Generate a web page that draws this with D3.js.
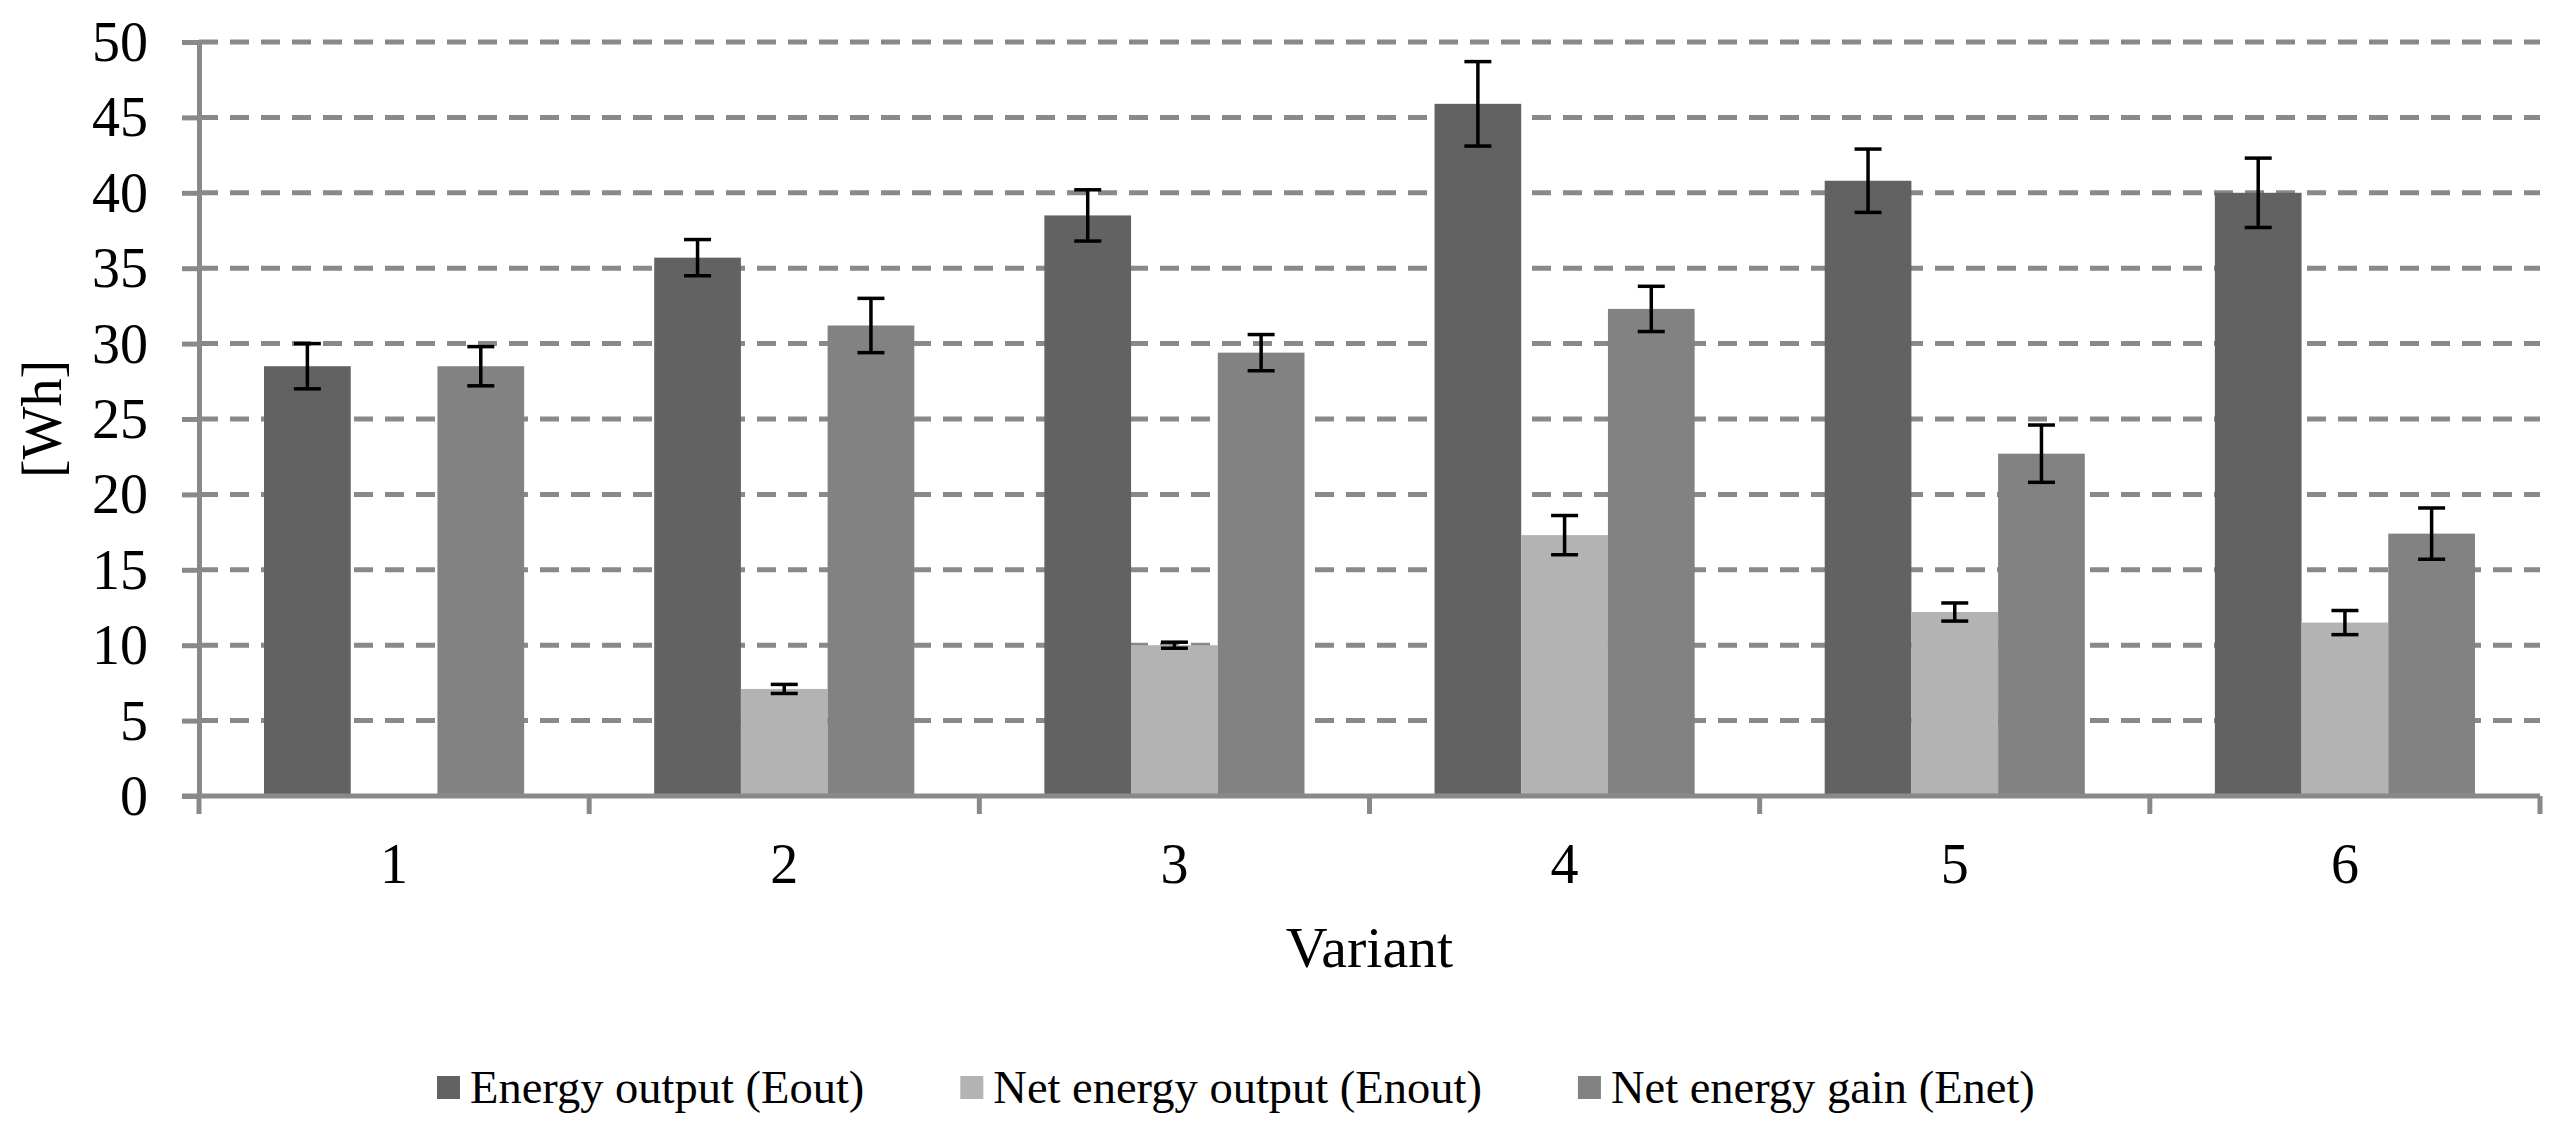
<!DOCTYPE html>
<html>
<head>
<meta charset="utf-8">
<script src="https://cdnjs.cloudflare.com/ajax/libs/d3/7.8.5/d3.min.js"></script>
<style>
  body { margin: 0; background: #fff; }
  svg { display: block; font-family: "Liberation Serif", "Times New Roman", serif; }
</style>
</head>
<body>
<div id="chart"></div>
<script>
// variants on the x axis
const variants = ["1", "2", "3", "4", "5", "6"];
const seriesNames = ["Energy output (Eout)", "Net energy output (Enout)", "Net energy gain (Enet)"];
const seriesKeys = ["eout", "enout", "enet"];

// bar heights [Wh]
const eout  = [28.5, 35.7, 38.5, 45.9, 40.8, 40.0];
const enout = [null, 7.1, 10.0, 17.3, 12.2, 11.5];
const enet  = [28.5, 31.2, 29.4, 32.3, 22.7, 17.4];

// error bar half-lengths
const eoutErr  = [1.5, 1.2, 1.7, 2.8, 2.1, 2.3];
const enoutErr = [null, 0.3, 0.2, 1.3, 0.6, 0.8];
const enetErr  = [1.3, 1.8, 1.2, 1.5, 1.9, 1.7];

const yTicks = [0, 5, 10, 15, 20, 25, 30, 35, 40, 45, 50];

const values = { eout: eout, enout: enout, enet: enet };
const errors = { eout: eoutErr, enout: enoutErr, enet: enetErr };
const colors = { eout: "#626262", enout: "#b3b3b3", enet: "#828282" };

const W = 2559, H = 1126;
const plotLeft = 199, plotRight = 2540, plotTop = 42, plotBottom = 796;
const axisColor = "#898989";

const svg = d3.select("#chart").append("svg")
    .attr("width", W)
    .attr("height", H);

svg.append("rect").attr("width", W).attr("height", H).attr("fill", "#fff");

const x = d3.scaleBand()
    .domain(variants)
    .range([plotLeft, plotRight])
    .padding(0);

const x1 = d3.scaleBand()
    .domain(seriesKeys)
    .range([0, x.bandwidth()])
    .paddingInner(0)
    .paddingOuter(0.75);

const y = d3.scaleLinear()
    .domain([0, 50])
    .range([plotBottom, plotTop]);

// dashed gridlines
svg.append("g")
    .selectAll("line")
    .data(yTicks.filter(d => d > 0))
    .enter().append("line")
    .attr("x1", plotLeft)
    .attr("x2", plotRight)
    .attr("y1", d => y(d))
    .attr("y2", d => y(d))
    .attr("stroke", axisColor)
    .attr("stroke-width", 5)
    .attr("stroke-dasharray", "19 12");

// flatten into one record per bar
const bars = [];
variants.forEach((v, i) => {
    seriesKeys.forEach(k => {
        if (values[k][i] != null) {
            bars.push({ variant: v, key: k, value: values[k][i], err: errors[k][i] });
        }
    });
});

svg.append("g")
    .selectAll("rect")
    .data(bars)
    .enter().append("rect")
    .attr("x", d => x(d.variant) + x1(d.key))
    .attr("y", d => y(d.value))
    .attr("width", x1.bandwidth())
    .attr("height", d => y(0) - y(d.value))
    .attr("fill", d => colors[d.key]);

// error bars
const errG = svg.append("g")
    .attr("stroke", "#000")
    .attr("stroke-width", 3.5);

const cx = d => x(d.variant) + x1(d.key) + x1.bandwidth() / 2;
const capHalf = 13.5;

errG.selectAll(".stem")
    .data(bars)
    .enter().append("line")
    .attr("x1", cx).attr("x2", cx)
    .attr("y1", d => y(d.value + d.err))
    .attr("y2", d => y(d.value - d.err));

errG.selectAll(".capTop")
    .data(bars)
    .enter().append("line")
    .attr("x1", d => cx(d) - capHalf).attr("x2", d => cx(d) + capHalf)
    .attr("y1", d => y(d.value + d.err)).attr("y2", d => y(d.value + d.err));

errG.selectAll(".capBottom")
    .data(bars)
    .enter().append("line")
    .attr("x1", d => cx(d) - capHalf).attr("x2", d => cx(d) + capHalf)
    .attr("y1", d => y(d.value - d.err)).attr("y2", d => y(d.value - d.err));

// y axis
const yAxisGroup = svg.append("g")
    .attr("transform", `translate(${plotLeft},0)`)
    .call(d3.axisLeft(y)
        .tickValues(yTicks)
        .tickSize(17)
        .tickSizeOuter(0)
        .tickPadding(34)
        .tickFormat(d3.format("d")));

yAxisGroup.selectAll("path, line")
    .attr("stroke", axisColor)
    .attr("stroke-width", 5);

yAxisGroup.selectAll("text")
    .attr("dy", "0.33em")
    .style("font-size", "56px")
    .style("font-family", "Liberation Serif")
    .attr("fill", "#000");

// x axis: labels at centres, tick marks at band edges
const xAxisGroup = svg.append("g")
    .attr("transform", `translate(0,${plotBottom})`)
    .call(d3.axisBottom(x)
        .tickSize(0)
        .tickSizeOuter(0));

xAxisGroup.select(".domain")
    .attr("stroke", axisColor)
    .attr("stroke-width", 5)
    .attr("d", `M${plotLeft - 17},0H${plotRight}`);

xAxisGroup.selectAll("text")
    .attr("y", 87)
    .attr("dy", 0)
    .style("font-size", "56px")
    .style("font-family", "Liberation Serif")
    .attr("fill", "#000");

const edges = variants.map(v => x(v)).concat([x.range()[1]]);
xAxisGroup.selectAll(".edge")
    .data(edges)
    .enter().append("line")
    .attr("x1", d => d).attr("x2", d => d)
    .attr("y1", 0).attr("y2", 18)
    .attr("stroke", axisColor)
    .attr("stroke-width", 5);

// axis titles
svg.append("text")
    .attr("x", (plotLeft + plotRight) / 2)
    .attr("y", 967)
    .attr("text-anchor", "middle")
    .style("font-size", "58px")
    .text("Variant");

svg.append("text")
    .attr("transform", `translate(61,${(plotTop + plotBottom) / 2}) rotate(-90)`)
    .attr("text-anchor", "middle")
    .style("font-size", "56px")
    .text("[Wh]");

// legend
const legend = svg.append("g").attr("class", "legend");
let lx = 437;
seriesKeys.forEach((k, i) => {
    legend.append("rect")
        .attr("x", lx)
        .attr("y", 1076)
        .attr("width", 23)
        .attr("height", 23)
        .attr("fill", colors[k]);
    const t = legend.append("text")
        .attr("x", lx + 33)
        .attr("y", 1103)
        .style("font-size", "46.5px")
        .text(seriesNames[i]);
    lx += 33 + t.node().getComputedTextLength() + 96;
});
</script>
</body>
</html>
